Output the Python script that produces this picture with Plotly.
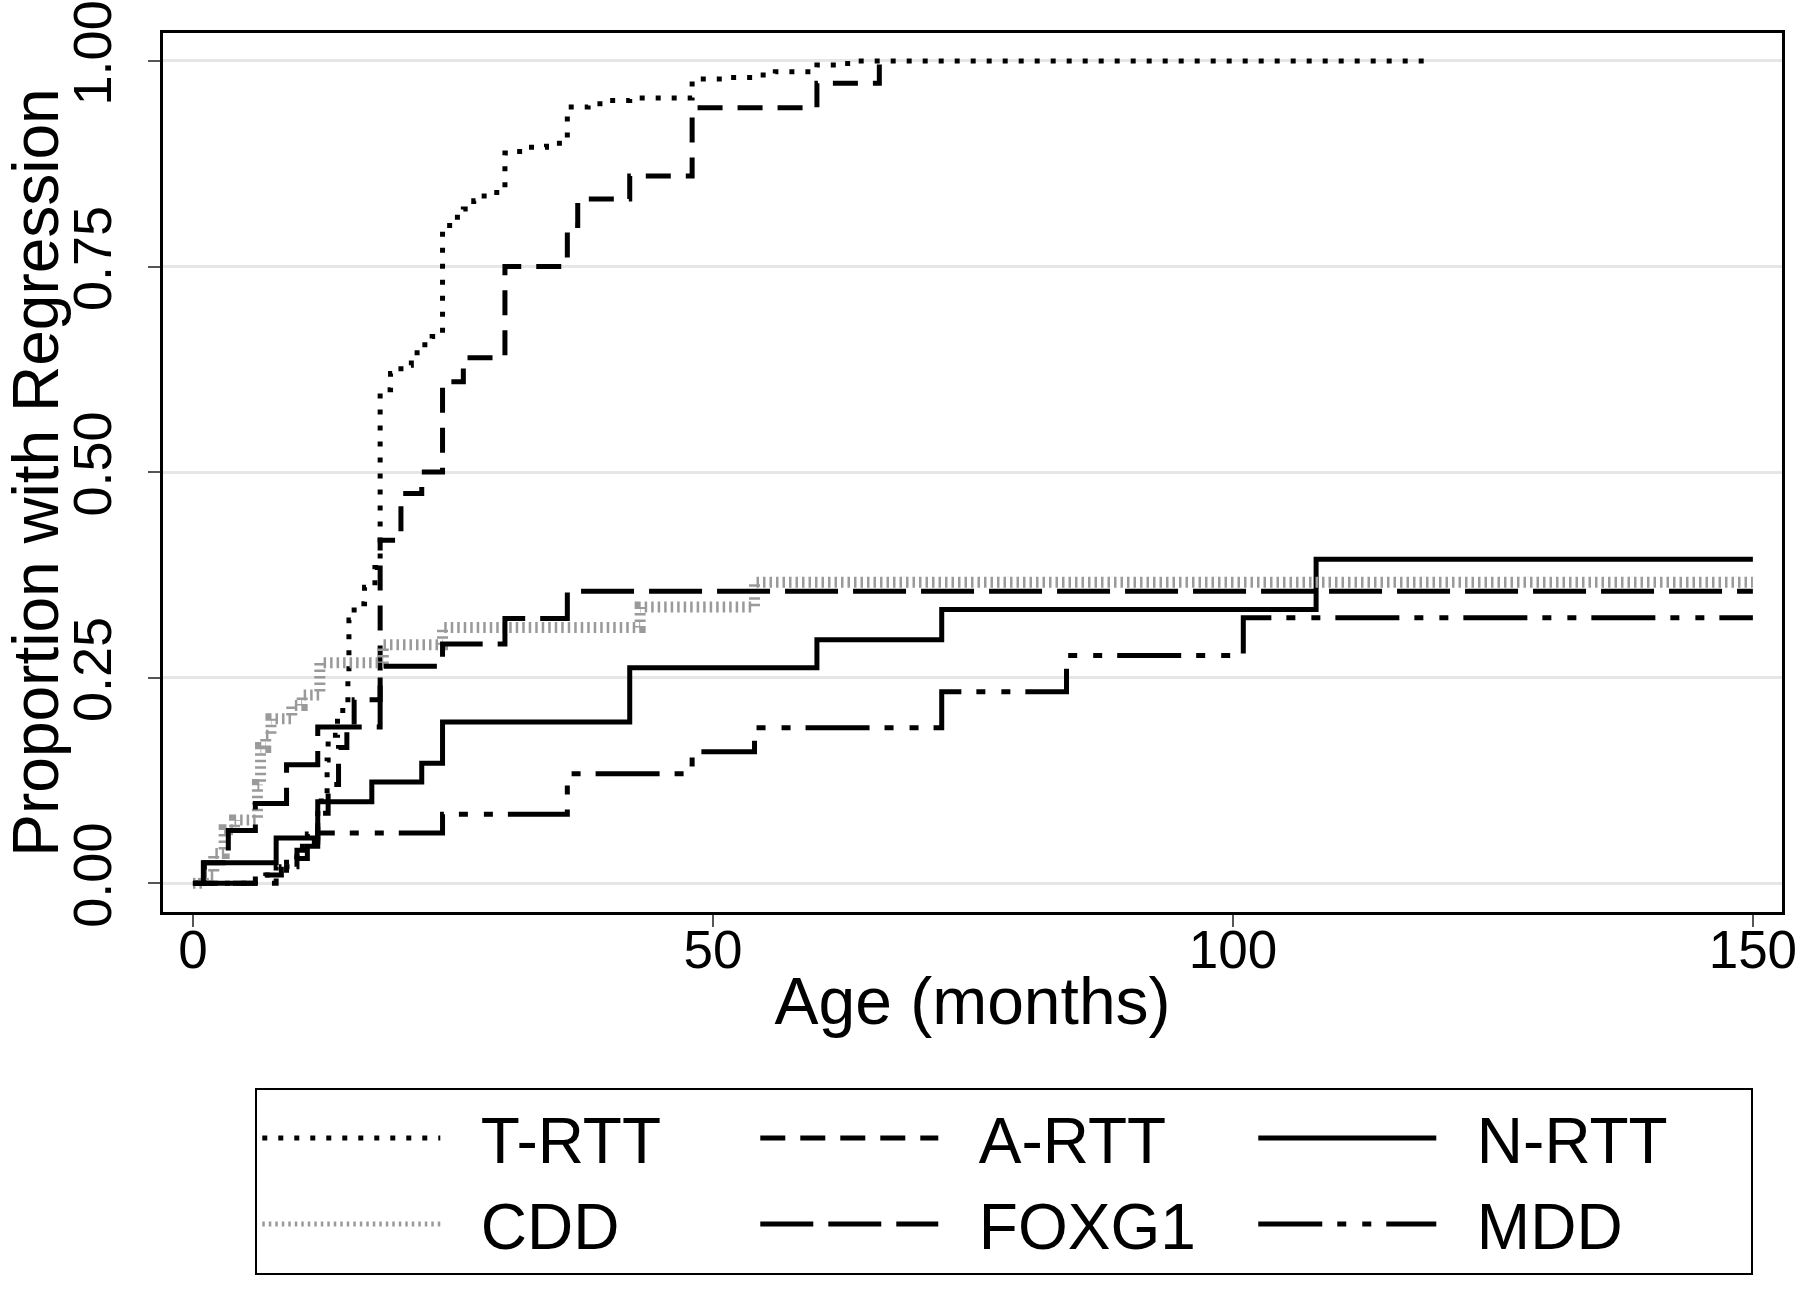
import plotly.graph_objects as go

# ---- data (months, cumulative proportion with regression) ----
trtt_x = [0, 5, 6, 8, 9, 10, 11, 12, 12.9, 13, 13.9, 14.9, 15, 15.5, 16.5, 17.5, 18, 19, 20, 21, 22, 23, 24,
          25, 26, 27, 28, 30, 31, 32, 34, 36, 38, 40, 42, 48, 51, 54, 56, 60, 62, 64, 119]
trtt_y = [0, 0.0, 0.01, 0.02, 0.03, 0.045, 0.06, 0.10, 0.15, 0.18, 0.21, 0.255, 0.32, 0.34, 0.36, 0.384, 0.60,
          0.62, 0.63, 0.645, 0.655, 0.665, 0.80, 0.81, 0.82, 0.83, 0.84, 0.888, 0.89, 0.895, 0.90, 0.944, 0.948,
          0.952, 0.955, 0.978, 0.98, 0.983, 0.987, 0.995, 0.997, 1.0, 1.0]

artt_x = [0, 7, 8.5, 10, 11, 12, 13, 14, 14.8, 15.5, 18, 20, 22, 24, 26, 30, 36, 37, 42, 48, 60, 66]
artt_y = [0, 0.01, 0.02, 0.04, 0.05, 0.085, 0.12, 0.165, 0.19, 0.223, 0.417, 0.474, 0.50, 0.61, 0.639, 0.75,
          0.80, 0.832, 0.86, 0.943, 0.973, 0.997]

nrtt_x = [0, 1.1, 8, 12, 17.2, 22, 24, 42, 60, 72, 108, 150]
nrtt_y = [0, 0.025, 0.055, 0.099, 0.123, 0.146, 0.196, 0.262, 0.296, 0.333, 0.394, 0.394]

cdd_x = [0, 1, 2, 3, 4, 6.2, 6.5, 7, 7.5, 9.5, 10.5, 12.2, 18.3, 24, 43, 54, 150]
cdd_y = [0, 0.01, 0.036, 0.065, 0.077, 0.12, 0.165, 0.18, 0.20, 0.216, 0.229, 0.268, 0.29, 0.311, 0.336,
         0.366, 0.366]

foxg1_x = [0, 1, 3.4, 6, 9, 12, 18, 24, 30, 36, 150]
foxg1_y = [0, 0.025, 0.064, 0.097, 0.144, 0.19, 0.264, 0.291, 0.322, 0.355, 0.355]

mdd_x = [0, 6, 8, 9, 10, 11, 12, 24, 36, 48, 54, 72, 84, 101, 150]
mdd_y = [0, 0, 0.01, 0.02, 0.03, 0.045, 0.061, 0.084, 0.133, 0.16, 0.189, 0.233, 0.277, 0.323, 0.323]

x_ticks = [0, 50, 100, 150]
y_ticks = [0, 0.25, 0.5, 0.75, 1.0]
y_tick_labels = ["0.00", "0.25", "0.50", "0.75", "1.00"]

FONT = "Liberation Sans, Arial, Helvetica, sans-serif"
PAD = "\u00a0\u00a0"

series = [
    ("T-RTT", trtt_x, trtt_y, dict(color="black", width=5, dash="5px,11px")),
    ("A-RTT", artt_x, artt_y, dict(color="black", width=5, dash="25px,15px")),
    ("N-RTT", nrtt_x, nrtt_y, dict(color="black", width=5, dash="solid")),
    ("CDD", cdd_x, cdd_y, dict(color="#9a9a9a", width=11, dash="2.5px,4px")),
    ("FOXG1", foxg1_x, foxg1_y, dict(color="black", width=5, dash="53px,15px")),
    ("MDD", mdd_x, mdd_y, dict(color="black", width=5, dash="64px,15px,9px,16px,9px,15px")),
]

fig = go.Figure()
for name, xs, ys, ln in series:
    fig.add_trace(go.Scatter(x=xs, y=ys, name=PAD + name, mode="lines", line_shape="hv",
                             line=ln, hoverinfo="skip"))

fig.update_layout(
    width=1800, height=1292,
    margin=dict(l=163, r=18, t=33, b=380, autoexpand=False),
    paper_bgcolor="white", plot_bgcolor="white",
    font=dict(family=FONT, color="black"),
    showlegend=True,
    legend=dict(
        orientation="h", x=0.057, xanchor="left", y=-0.2, yanchor="top",
        bordercolor="black", borderwidth=2, bgcolor="white",
        font=dict(size=64, family=FONT),
        itemwidth=178, entrywidth=305, traceorder="normal",
        itemsizing="constant",
    ),
)

fig.update_xaxes(
    range=[-2.88, 152.8], tickvals=x_ticks, ticktext=[str(v) for v in x_ticks],
    showgrid=False, zeroline=False, automargin=False,
    showline=True, linecolor="black", linewidth=2.5, mirror=True,
    ticks="outside", ticklen=12, tickwidth=2, tickcolor="#555555",
    tickfont=dict(size=53, family=FONT), ticklabeloverflow="allow", ticklabelstandoff=-22,
    title=dict(text="Age (months)", font=dict(size=66, family=FONT), standoff=0),
)
fig.update_yaxes(
    range=[-0.035, 1.034], tickvals=y_ticks, ticktext=y_tick_labels,
    showgrid=True, gridcolor="#e6e6e6", gridwidth=2.5, zeroline=False, automargin=False,
    showline=True, linecolor="black", linewidth=2.5, mirror=True,
    ticks="outside", ticklen=12, tickwidth=2, tickcolor="#555555",
    tickangle=-90, tickfont=dict(size=54, family=FONT), ticklabeloverflow="allow",
    ticklabelstandoff=16,
    title=dict(text="Proportion with Regression", font=dict(size=64, family=FONT), standoff=40),
)

fig.write_html("out.html", config={"displayModeBar": False},
               post_script="document.body.style.margin='0px';")
